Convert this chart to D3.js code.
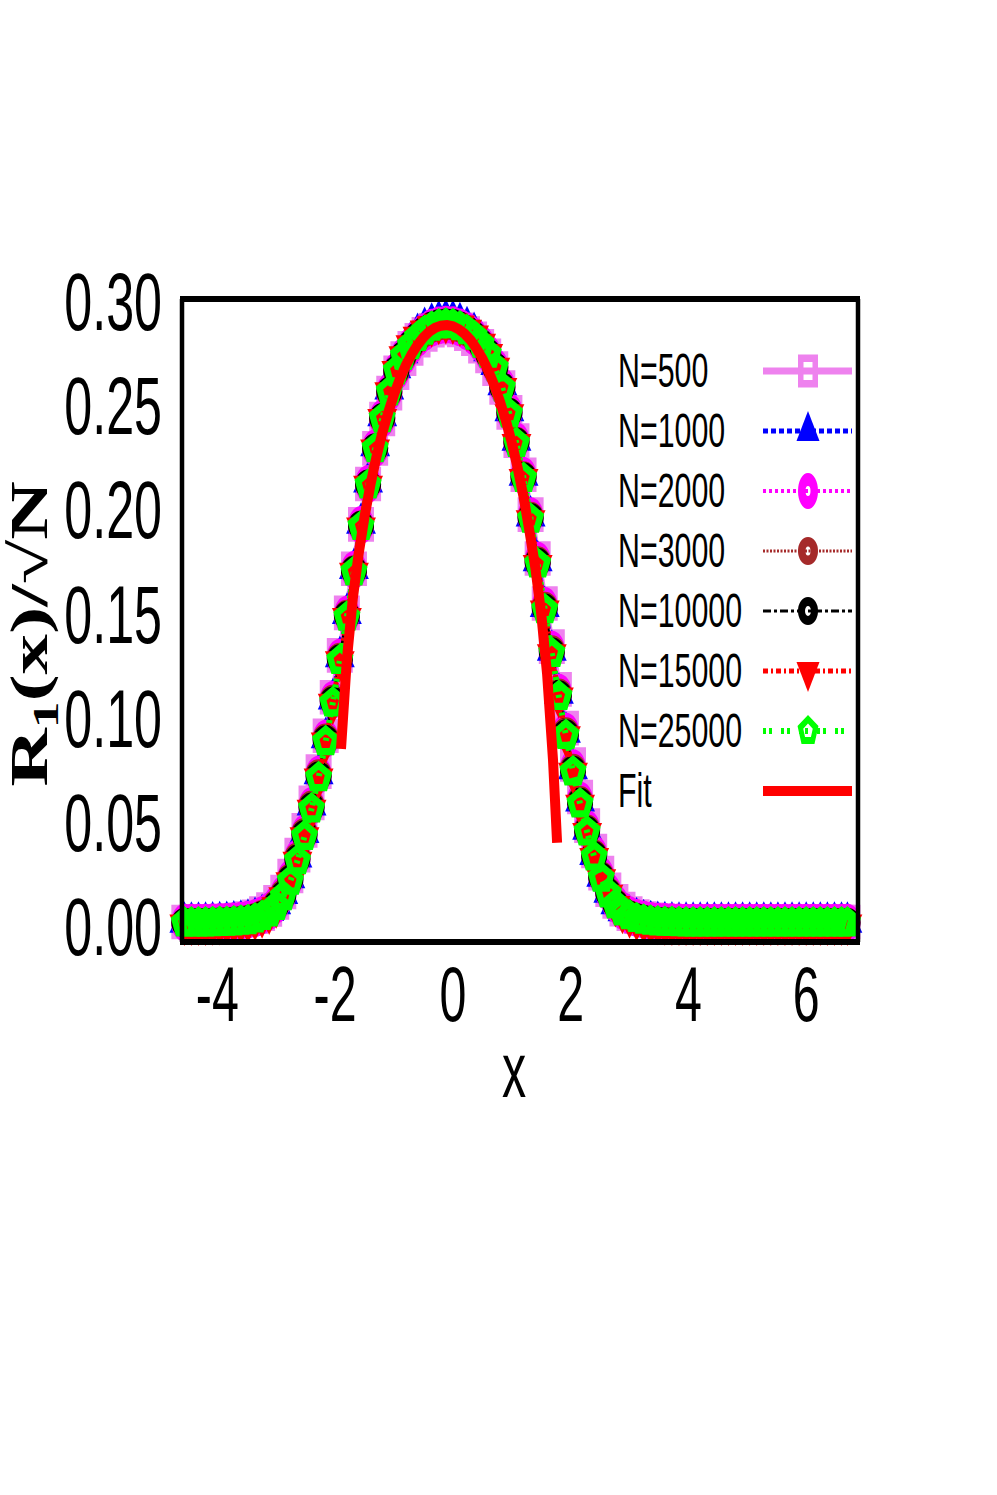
<!DOCTYPE html>
<html>
<head>
<meta charset="utf-8">
<script src="https://cdn.jsdelivr.net/npm/d3@7"></script>
<style>
  body { margin: 0; background: #fff; }
  svg { display: block; }
</style>
</head>
<body>
<svg id="chart"></svg>
<script>
// sample positions shared by every N series
const xGrid = [-4.56,-4.44,-4.32,-4.20,-4.08,-3.96,-3.84,-3.72,-3.60,-3.48,
  -3.36,-3.24,-3.12,-3.00,-2.88,-2.76,-2.64,-2.52,-2.40,-2.28,
  -2.16,-2.04,-1.92,-1.80,-1.68,-1.56,-1.44,-1.32,-1.20,-1.08,
  -0.96,-0.84,-0.72,-0.60,-0.48,-0.36,-0.24,-0.12,0.00,0.12,
  0.24,0.36,0.48,0.60,0.72,0.84,0.96,1.08,1.20,1.32,
  1.44,1.56,1.68,1.80,1.92,2.04,2.16,2.28,2.40,2.52,
  2.64,2.76,2.88,3.00,3.12,3.24,3.36,3.48,3.60,3.72,
  3.84,3.96,4.08,4.20,4.32,4.44,4.56,4.68,4.80,4.92,
  5.04,5.16,5.28,5.40,5.52,5.64,5.76,5.88,6.00,6.12,
  6.24,6.36,6.48,6.60,6.70];

const n500 = [.0019,.0019,.0019,.0019,.0020,.0021,.0023,.0026,.0030,.0035,
  .0044,.0059,.0079,.0113,.0163,.0240,.0340,.0459,.0591,.0741,
  .0913,.1098,.1299,.1503,.1715,.1928,.2122,.2293,.2434,.2558,
  .2656,.2724,.2773,.2812,.2840,.2860,.2871,.2875,.2872,.2862,
  .2844,.2819,.2783,.2737,.2676,.2585,.2466,.2330,.2166,.1975,
  .1764,.1548,.1341,.1136,.0950,.0775,.0619,.0482,.0360,.0254,
  .0174,.0118,.0081,.0059,.0045,.0035,.0029,.0025,.0022,.0021,
  .0020,.0019,.0019,.0019,.0019,.0019,.0019,.0019,.0019,.0019,
  .0019,.0019,.0019,.0019,.0019,.0019,.0019,.0019,.0019,.0019,
  .0019,.0019,.0019,.0019,.0019];

const n1000 = [.0018,.0018,.0018,.0018,.0019,.0020,.0022,.0024,.0028,.0032,
  .0041,.0055,.0074,.0107,.0156,.0232,.0331,.0449,.0581,.0731,
  .0904,.1090,.1293,.1500,.1716,.1933,.2131,.2305,.2450,.2578,
  .2680,.2752,.2803,.2844,.2873,.2894,.2906,.2910,.2907,.2896,
  .2877,.2849,.2810,.2761,.2695,.2598,.2473,.2332,.2164,.1968,
  .1753,.1534,.1324,.1117,.0930,.0755,.0600,.0464,.0343,.0239,
  .0162,.0107,.0073,.0052,.0039,.0030,.0025,.0022,.0020,.0019,
  .0018,.0018,.0018,.0018,.0018,.0018,.0018,.0018,.0018,.0018,
  .0018,.0018,.0018,.0018,.0018,.0018,.0018,.0018,.0018,.0018,
  .0018,.0018,.0018,.0018,.0018];

const n2000 = [.0016,.0016,.0016,.0016,.0017,.0018,.0020,.0022,.0026,.0030,
  .0038,.0052,.0071,.0103,.0152,.0227,.0326,.0444,.0576,.0727,
  .0899,.1085,.1288,.1494,.1709,.1925,.2122,.2294,.2437,.2563,
  .2663,.2733,.2783,.2823,.2852,.2872,.2883,.2887,.2884,.2874,
  .2856,.2830,.2793,.2746,.2683,.2589,.2467,.2328,.2161,.1967,
  .1754,.1536,.1327,.1120,.0933,.0758,.0603,.0466,.0345,.0241,
  .0163,.0108,.0073,.0052,.0039,.0030,.0024,.0021,.0019,.0018,
  .0017,.0016,.0016,.0016,.0016,.0016,.0016,.0016,.0016,.0016,
  .0016,.0016,.0016,.0016,.0016,.0016,.0016,.0016,.0016,.0016,
  .0016,.0016,.0016,.0016,.0016];

const n3000 = [.0017,.0017,.0017,.0017,.0018,.0019,.0021,.0023,.0027,.0031,
  .0040,.0054,.0073,.0106,.0155,.0231,.0330,.0448,.0580,.0730,
  .0902,.1087,.1289,.1495,.1709,.1924,.2120,.2292,.2435,.2561,
  .2661,.2731,.2781,.2821,.2850,.2870,.2881,.2885,.2882,.2872,
  .2853,.2827,.2790,.2743,.2680,.2587,.2465,.2326,.2160,.1966,
  .1752,.1534,.1325,.1118,.0931,.0756,.0601,.0465,.0344,.0240,
  .0163,.0109,.0074,.0053,.0040,.0031,.0025,.0022,.0020,.0019,
  .0018,.0017,.0017,.0017,.0017,.0017,.0017,.0017,.0017,.0017,
  .0017,.0017,.0017,.0017,.0017,.0017,.0017,.0017,.0017,.0017,
  .0017,.0017,.0017,.0017,.0017];

const n10000 = [.0016,.0016,.0016,.0016,.0017,.0018,.0019,.0021,.0024,.0028,
  .0036,.0049,.0067,.0099,.0147,.0222,.0320,.0438,.0570,.0720,
  .0893,.1079,.1282,.1490,.1706,.1923,.2121,.2295,.2440,.2567,
  .2668,.2739,.2790,.2830,.2859,.2879,.2890,.2894,.2891,.2880,
  .2861,.2834,.2796,.2748,.2683,.2588,.2464,.2323,.2156,.1960,
  .1745,.1526,.1316,.1109,.0922,.0747,.0593,.0457,.0337,.0234,
  .0158,.0105,.0071,.0051,.0038,.0030,.0024,.0021,.0019,.0018,
  .0017,.0016,.0016,.0016,.0016,.0016,.0016,.0016,.0016,.0016,
  .0016,.0016,.0016,.0016,.0016,.0016,.0016,.0016,.0016,.0016,
  .0016,.0016,.0016,.0016,.0016];

const n15000 = [.0010,.0010,.0010,.0010,.0011,.0012,.0014,.0016,.0019,.0023,
  .0033,.0045,.0062,.0093,.0140,.0213,.0311,.0428,.0560,.0710,
  .0883,.1069,.1273,.1481,.1698,.1916,.2116,.2290,.2436,.2565,
  .2667,.2738,.2790,.2831,.2861,.2882,.2894,.2898,.2895,.2885,
  .2865,.2837,.2798,.2749,.2682,.2585,.2459,.2317,.2148,.1951,
  .1736,.1517,.1307,.1100,.0913,.0738,.0584,.0449,.0329,.0227,
  .0152,.0099,.0066,.0045,.0031,.0022,.0016,.0013,.0011,.0010,
  .0010,.0010,.0010,.0010,.0010,.0010,.0010,.0010,.0010,.0010,
  .0010,.0010,.0010,.0010,.0010,.0010,.0010,.0010,.0010,.0010,
  .0010,.0010,.0010,.0010,.0010];

const n25000 = [.0015,.0015,.0015,.0015,.0016,.0017,.0018,.0020,.0023,.0026,
  .0034,.0046,.0063,.0094,.0141,.0215,.0313,.0430,.0562,.0712,
  .0885,.1071,.1275,.1483,.1700,.1918,.2117,.2291,.2436,.2564,
  .2665,.2735,.2786,.2826,.2855,.2875,.2886,.2890,.2887,.2877,
  .2858,.2831,.2793,.2745,.2679,.2583,.2458,.2317,.2149,.1953,
  .1738,.1519,.1309,.1102,.0915,.0740,.0586,.0451,.0331,.0229,
  .0154,.0101,.0068,.0049,.0036,.0028,.0023,.0020,.0018,.0017,
  .0016,.0015,.0015,.0015,.0015,.0015,.0015,.0015,.0015,.0015,
  .0015,.0015,.0015,.0015,.0015,.0015,.0015,.0015,.0015,.0015,
  .0015,.0015,.0015,.0015,.0015];

const fitX = [-1.90,-1.80,-1.70,-1.60,-1.50,-1.40,-1.30,-1.20,-1.10,-1.00,
  -0.90,-0.80,-0.70,-0.60,-0.50,-0.40,-0.30,-0.20,-0.10,0.00,
  0.10,0.20,0.30,0.40,0.50,0.60,0.70,0.80,0.90,1.00,
  1.10,1.20,1.30,1.40,1.50,1.60,1.70,1.77];
const fitY = [.085,.128,.157,.1787,.1965,.2118,.2250,.2365,.2464,.2551,
  .2627,.2691,.2745,.2790,.2826,.2853,.2872,.2882,.2885,.2879,
  .2865,.2843,.2813,.2773,.2725,.2666,.2598,.2518,.2426,.2321,
  .2199,.2060,.1897,.1720,.1500,.1210,.0800,.0400];

const seriesLabels = ['N=500', 'N=1000', 'N=2000', 'N=3000', 'N=10000', 'N=15000', 'N=25000'];
const seriesValues = [n500, n1000, n2000, n3000, n10000, n15000, n25000];
const fitLabel = 'Fit';

const yTicks = [0.00, 0.05, 0.10, 0.15, 0.20, 0.25, 0.30];
const xTicks = [-4, -2, 0, 2, 4, 6];

// look of each series, same order as seriesLabels
const seriesStyles = [
  {color: '#ee82ee', width: 7, dash: null,      marker: 'square'},
  {color: '#0000ff', width: 5, dash: '5,3',     marker: 'triUp'},
  {color: '#ff00ff', width: 4, dash: '3,3',     marker: 'ring', ring: [10, 18, 2.5, 5]},
  {color: '#a52a2a', width: 3, dash: '2,1.5',   marker: 'ring', ring: [10, 14, 2.5, 4.5]},
  {color: '#000000', width: 3, dash: '8,3,3,3', marker: 'ring', ring: [10, 14, 3, 5]},
  {color: '#ff0000', width: 5, dash: '5,3,2,3', marker: 'triDown'},
  {color: '#00ff00', width: 6, dash: '3,3,3,9', marker: 'pentagon'}
];

function ellipse(rx, ry) {
  return `M${-rx},0A${rx},${ry} 0 1,0 ${rx},0A${rx},${ry} 0 1,0 ${-rx},0Z`;
}

function poly(pts) {
  return 'M' + pts.map(p => `${p[0].toFixed(2)},${p[1].toFixed(2)}`).join('L') + 'Z';
}

function pentagon(rx, ry) {
  return d3.range(5).map(i => {
    let a = -Math.PI / 2 + i * 2 * Math.PI / 5;
    return [rx * Math.cos(a), ry * Math.sin(a)];
  });
}

function markerPath(style) {
  switch (style.marker) {
    case 'square':
      return poly([[-10, -16.5], [10, -16.5], [10, 16.5], [-10, 16.5]]) +
        poly([[-4.5, -9], [4.5, -9], [4.5, 9], [-4.5, 9]]);
    case 'triUp':
      return poly([[0, -20], [11.5, 10], [-11.5, 10]]);
    case 'triDown':
      return poly([[0, 21], [11.5, -9], [-11.5, -9]]);
    case 'pentagon':
      return poly(pentagon(11, 16)) + poly(pentagon(5, 7.5));
    default: {
      let r = style.ring;
      return ellipse(r[0], r[1]) + ellipse(r[2], r[3]);
    }
  }
}

class DensityChart {

  constructor(_config) {
    this.config = {
      parentElement: _config.parentElement,
      containerWidth: 997,
      containerHeight: 1495,
      plot: {left: 182, right: 858, top: 299, bottom: 942},
      pointScale: [1.3, 1.05] // points in the plot are a bit wider than the key ones
    };
    this.initVis();
  }

  initVis() {
    let vis = this;
    const p = vis.config.plot;

    vis.svg = d3.select(vis.config.parentElement)
      .attr('width', vis.config.containerWidth)
      .attr('height', vis.config.containerHeight);

    vis.xScale = d3.scaleLinear().domain([-4.6, 6.88]).range([p.left, p.right]);
    vis.yScale = d3.scaleLinear().domain([-0.0077, 0.301]).range([p.bottom, p.top]);

    vis.sansFont = '"Liberation Sans", Arial, Helvetica, sans-serif';

    vis.renderVis();
  }

  drawMarker(g, style, cx, cy, sc) {
    g.append('path')
      .attr('d', markerPath(style))
      .attr('transform', `translate(${cx},${cy})` + (sc ? ` scale(${sc[0]},${sc[1]})` : ''))
      .attr('fill', style.color)
      .attr('fill-rule', 'evenodd');
  }

  renderVis() {
    let vis = this;
    const p = vis.config.plot;

    const line = d3.line()
      .x(d => vis.xScale(d[0]))
      .y(d => vis.yScale(d[1]));

    const dataG = vis.svg.append('g');

    // each series: line first, then its points, in legend order
    seriesValues.forEach((vals, i) => {
      const style = seriesStyles[i];
      const pts = xGrid.map((x, j) => [x, vals[j]]);
      const g = dataG.append('g');
      g.append('path')
        .attr('d', line(pts))
        .attr('fill', 'none')
        .attr('stroke', style.color)
        .attr('stroke-width', style.width)
        .attr('stroke-dasharray', style.dash);
      pts.forEach(d => vis.drawMarker(g, style, vis.xScale(d[0]), vis.yScale(d[1]), vis.config.pointScale));
    });

    dataG.append('path')
      .attr('d', line(fitX.map((x, j) => [x, fitY[j]])))
      .attr('fill', 'none')
      .attr('stroke', '#ff0000')
      .attr('stroke-width', 10);

    // frame
    const frame = vis.svg.append('g').attr('stroke', '#000');
    frame.append('line').attr('x1', p.left - 2).attr('x2', p.right + 2)
      .attr('y1', p.top).attr('y2', p.top).attr('stroke-width', 6);
    frame.append('line').attr('x1', p.left - 2).attr('x2', p.right + 2)
      .attr('y1', p.bottom).attr('y2', p.bottom).attr('stroke-width', 6);
    frame.append('line').attr('x1', p.left).attr('x2', p.left)
      .attr('y1', p.top).attr('y2', p.bottom).attr('stroke-width', 4.5);
    frame.append('line').attr('x1', p.right).attr('x2', p.right)
      .attr('y1', p.top).attr('y2', p.bottom).attr('stroke-width', 4.5);

    // tick labels (condensed look via horizontal squeeze)
    vis.svg.append('g').selectAll('text')
      .data(yTicks)
      .join('text')
      .attr('transform', d => `translate(162,${vis.yScale(d) + 29}) scale(0.62,1)`)
      .attr('text-anchor', 'end')
      .style('font-family', vis.sansFont)
      .style('font-size', '81px')
      .text(d => d3.format('.2f')(d));

    vis.svg.append('g').selectAll('text')
      .data(xTicks)
      .join('text')
      .attr('transform', d => `translate(${vis.xScale(d)},1021) scale(0.62,1)`)
      .attr('text-anchor', 'middle')
      .style('font-family', vis.sansFont)
      .style('font-size', '78px')
      .text(d => d < 0 ? '-' + Math.abs(d) : d);

    vis.svg.append('text')
      .attr('transform', 'translate(514,1097) scale(0.62,1)')
      .attr('text-anchor', 'middle')
      .style('font-family', vis.sansFont)
      .style('font-size', '78px')
      .text('x');

    const yLabel = vis.svg.append('text')
      .attr('transform', 'translate(47,634) rotate(-90) scale(1.53,1)')
      .attr('text-anchor', 'middle')
      .style('font-family', '"Liberation Serif", "Times New Roman", serif')
      .style('font-weight', 'bold')
      .style('font-size', '53px');
    yLabel.append('tspan').text('R');
    yLabel.append('tspan').attr('dy', 11).style('font-size', '35px').text('1');
    yLabel.append('tspan').attr('dy', -11).text('(x)/\u221AN');

    // legend
    const legend = vis.svg.append('g');
    const rowY = i => 387 + 60 * i;
    seriesLabels.concat([fitLabel]).forEach((label, i) => {
      const y = rowY(i);
      legend.append('text')
        .attr('transform', `translate(618,${y}) scale(0.62,1)`)
        .style('font-family', vis.sansFont)
        .style('font-size', '49px')
        .text(label);
      const style = i < seriesStyles.length ? seriesStyles[i] : {color: '#ff0000', width: 10, dash: null};
      legend.append('line')
        .attr('x1', 763).attr('x2', 852)
        .attr('y1', y - 16).attr('y2', y - 16)
        .attr('stroke', style.color)
        .attr('stroke-width', style.width)
        .attr('stroke-dasharray', style.dash);
      if (style.marker) {
        vis.drawMarker(legend, style, 808, y - 16);
      }
    });
  }
}

new DensityChart({parentElement: '#chart'});
</script>
</body>
</html>
